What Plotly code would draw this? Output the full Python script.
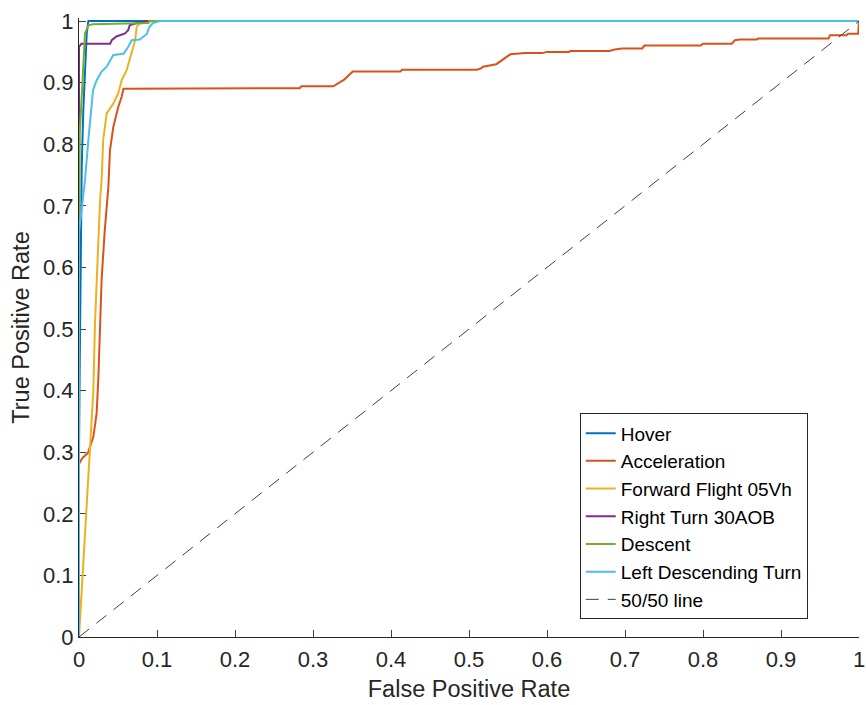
import plotly.graph_objects as go

# ---- data ----
hover_fpr = [0, 0, 0.001, 0.002, 0.0035, 0.0055, 0.0077, 0.0099, 0.012, 1]
hover_tpr = [0, 0.30, 0.45, 0.63, 0.764, 0.855, 0.926, 0.98, 1, 1]

accel_fpr = [0, 0, 0.004, 0.0115, 0.0184, 0.0226, 0.0248, 0.027, 0.029, 0.033, 0.0376,
             0.0397, 0.044, 0.0504, 0.0547, 0.057, 0.138, 0.14, 0.283, 0.285, 0.326, 0.34,
             0.351, 0.412, 0.414, 0.51, 0.515, 0.518, 0.535, 0.553, 0.572, 0.594, 0.60,
             0.628, 0.63, 0.68, 0.687, 0.696, 0.722, 0.725, 0.797, 0.80, 0.837, 0.841,
             0.847, 0.869, 0.871, 0.961, 0.963, 0.984, 0.986, 0.999, 1]
accel_tpr = [0, 0.281, 0.29, 0.299, 0.325, 0.363, 0.42, 0.498, 0.58, 0.66, 0.73,
             0.79, 0.828, 0.861, 0.877, 0.890, 0.890, 0.891, 0.891, 0.894, 0.894, 0.905,
             0.918, 0.918, 0.921, 0.921, 0.923, 0.926, 0.930, 0.946, 0.948, 0.948, 0.950,
             0.950, 0.9513, 0.9513, 0.9537, 0.9555, 0.9555, 0.9602, 0.9602, 0.9632, 0.9632, 0.969,
             0.9702, 0.9702, 0.9718, 0.9718, 0.977, 0.977, 0.9795, 0.9795, 1]

ffl_fpr = [0, 0.002, 0.0099, 0.014, 0.0184, 0.0205, 0.0226, 0.0248, 0.027, 0.029, 0.031,
           0.0355, 0.044, 0.0504, 0.0547, 0.061, 0.0675, 0.072, 0.074, 0.078, 0.095, 1]
ffl_tpr = [0, 0.044, 0.2, 0.298, 0.40, 0.51, 0.58, 0.66, 0.709, 0.742, 0.807,
           0.85, 0.866, 0.883, 0.904, 0.920, 0.947, 0.969, 0.991, 0.996, 1, 1]

rt_fpr = [0, 0, 0.003, 0.04, 0.042, 0.048, 0.059, 0.063, 0.065, 0.072, 0.087, 1]
rt_tpr = [0, 0.958, 0.963, 0.963, 0.969, 0.975, 0.98, 0.985, 0.993, 0.996, 1, 1]

desc_fpr = [0, 0, 0.001, 0.0035, 0.0055, 0.0077, 0.012, 0.018, 0.089, 0.09, 1]
desc_tpr = [0, 0.656, 0.818, 0.883, 0.926, 0.98, 0.993, 0.995, 0.997, 1, 1]

ldt_fpr = [0, 0, 0.004, 0.0077, 0.012, 0.016, 0.018, 0.0227, 0.029, 0.0355, 0.04, 0.044,
           0.057, 0.063, 0.0675, 0.078, 0.087, 0.090, 0.095, 0.104, 1]
ldt_tpr = [0, 0.66, 0.70, 0.742, 0.807, 0.855, 0.888, 0.904, 0.918, 0.926, 0.937, 0.945,
           0.947, 0.958, 0.969, 0.97, 0.979, 0.99, 0.997, 1, 1]

ref_x = [0, 1]
ref_y = [0, 1]

series = [
    ("Hover", hover_fpr, hover_tpr, "#0072BD"),
    ("Acceleration", accel_fpr, accel_tpr, "#D95319"),
    ("Forward Flight 05Vh", ffl_fpr, ffl_tpr, "#EDB120"),
    ("Right Turn 30AOB", rt_fpr, rt_tpr, "#7E2F8E"),
    ("Descent", desc_fpr, desc_tpr, "#77AC30"),
    ("Left Descending Turn", ldt_fpr, ldt_tpr, "#4DBEEE"),
]

tick_vals = [0, 0.1, 0.2, 0.3, 0.4, 0.5, 0.6, 0.7, 0.8, 0.9, 1]
tick_text = ["0", "0.1", "0.2", "0.3", "0.4", "0.5", "0.6", "0.7", "0.8", "0.9", "1"]

fig = go.Figure()
for name, x, y, c in series:
    fig.add_trace(go.Scatter(x=x, y=y, mode="lines", name=name,
                             line=dict(color=c, width=2), cliponaxis=False))
fig.add_trace(go.Scatter(x=ref_x, y=ref_y, mode="lines", name="50/50 line",
                         line=dict(color="#404040", width=1, dash="13px,9px"),
                         cliponaxis=False))

font = "Liberation Sans, Arial, Helvetica, sans-serif"
axis_common = dict(
    tickmode="array", tickvals=tick_vals, ticktext=tick_text,
    ticks="inside", ticklen=7, tickcolor="#404040", tickwidth=1,
    showline=True, linecolor="#262626", linewidth=1, mirror=False,
    showgrid=False, zeroline=False, automargin=False,
    ticklabeloverflow="allow", layer="below traces",
    tickfont=dict(family=font, size=22, color="#262626"),
)
fig.update_xaxes(**axis_common, range=[0, 1], ticklabelstandoff=3,
                 title=dict(text="False Positive Rate",
                            font=dict(family=font, size=23.5, color="#262626"), standoff=9))
fig.update_yaxes(**axis_common, range=[0, 1.005],
                 title=dict(text="True Positive Rate",
                            font=dict(family=font, size=23.5, color="#262626"), standoff=6))

fig.update_layout(
    width=866, height=705,
    margin=dict(l=79, r=7, t=18, b=68),
    paper_bgcolor="white", plot_bgcolor="white",
    showlegend=True,
    legend=dict(x=0.642, y=0.195, xanchor="left", yanchor="middle",
                bgcolor="white", bordercolor="#262626", borderwidth=1,
                font=dict(family=font, size=19, color="#000000"),
                tracegroupgap=0),
)

fig.write_html("out.html",
               config={"displayModeBar": False},
               post_script="document.body.style.margin='0px';document.body.style.padding='0px';")
